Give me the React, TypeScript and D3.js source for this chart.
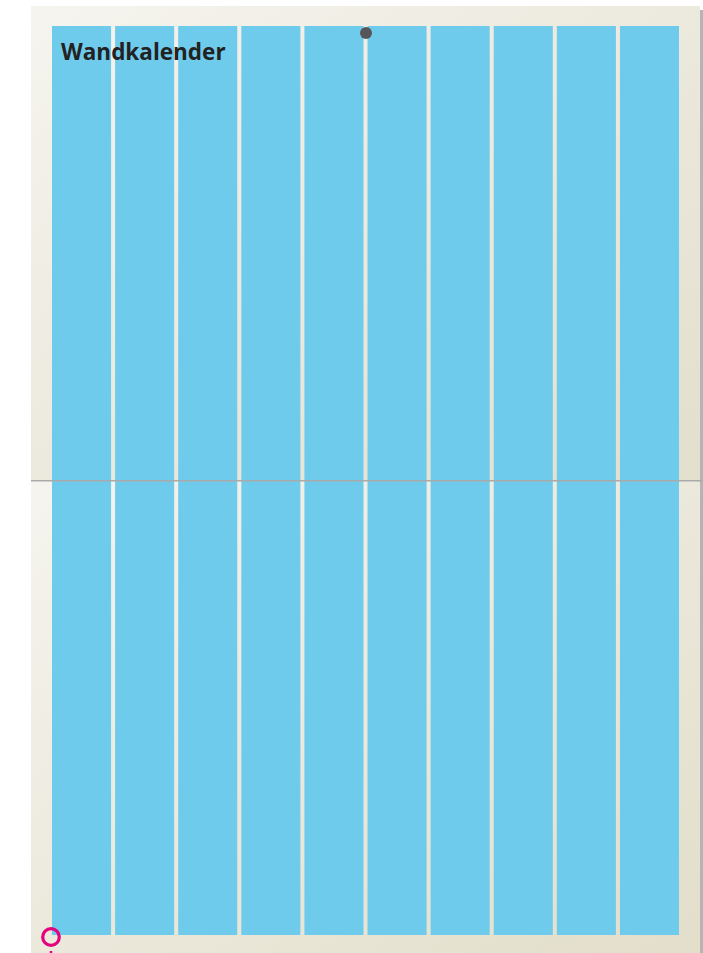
import React, { useEffect, useRef } from 'react';
import * as d3 from 'd3';

const title = 'Wandkalender';
const columns = ['1', '2', '3', '4', '5', '6', '7', '8', '9', '10'];
const panels = ['oben', 'unten'];

const App: React.FC = () => {
  const ref = useRef<SVGSVGElement | null>(null);

  useEffect(() => {
    if (!ref.current) return;
    const W = 703;
    const H = 953;
    const svg = d3.select(ref.current).attr('width', W).attr('height', H);
    svg.selectAll('*').remove();

    const defs = svg.append('defs');
    const grad = (id: string, a: string, b: string) => {
      const g = defs.append('linearGradient').attr('id', id)
        .attr('x1', '0%').attr('y1', '0%').attr('x2', '100%').attr('y2', '100%');
      g.append('stop').attr('offset', '0%').attr('stop-color', a);
      g.append('stop').attr('offset', '100%').attr('stop-color', b);
    };
    grad('g-oben', '#f5f4ee', '#e3dfcd');
    grad('g-unten', '#f5f4ee', '#e2deca');

    const x = d3.scaleBand<string>().domain(columns).range([52, 679]).paddingInner(0.064);
    const py = d3.scaleBand<string>().domain(panels).range([6, 956]);
    const left = 31, right = 700;

    // shadow on the right edge
    svg.append('rect').attr('x', right).attr('y', 10).attr('width', 3).attr('height', H - 10).attr('fill', '#b4b4b4');

    panels.forEach((p, i) => {
      const y0 = i === 0 ? py(p)! : 481;
      const y1 = i === 0 ? 480 : H;
      svg.append('rect').attr('x', left).attr('y', y0).attr('width', right - left).attr('height', y1 - y0)
        .attr('fill', `url(#g-${p})`);
      const cTop = i === 0 ? 26 : 481;
      const cBot = i === 0 ? 480 : 935;
      svg.append('g').selectAll('rect').data(columns).join('rect')
        .attr('x', d => x(d)!)
        .attr('y', cTop)
        .attr('width', x.bandwidth())
        .attr('height', cBot - cTop)
        .attr('fill', '#6fcbec');
    });

    // fold line
    svg.append('rect').attr('x', left).attr('y', 480).attr('width', right - left + 3).attr('height', 1.5).attr('fill', '#aaaaaa');

    // hanging hole
    svg.append('circle').attr('cx', 366).attr('cy', 33).attr('r', 6).attr('fill', '#56565a');

    svg.append('text').attr('x', 61).attr('y', 60)
      .attr('font-family', '"Open Sans", sans-serif').attr('font-weight', 700).attr('font-size', 22.5)
      .attr('fill', '#222222').text(title);

    // pink marker
    svg.append('circle').attr('cx', 51).attr('cy', 937).attr('r', 8.3)
      .attr('fill', 'none').attr('stroke', '#e5007d').attr('stroke-width', 3.2);
    svg.append('line').attr('x1', 51).attr('x2', 51).attr('y1', 951).attr('y2', 953)
      .attr('stroke', '#e5007d').attr('stroke-width', 2.5);
  }, []);

  return <svg ref={ref} style={{ position: 'absolute', left: 0, top: 0 }} />;
};

export default App;
